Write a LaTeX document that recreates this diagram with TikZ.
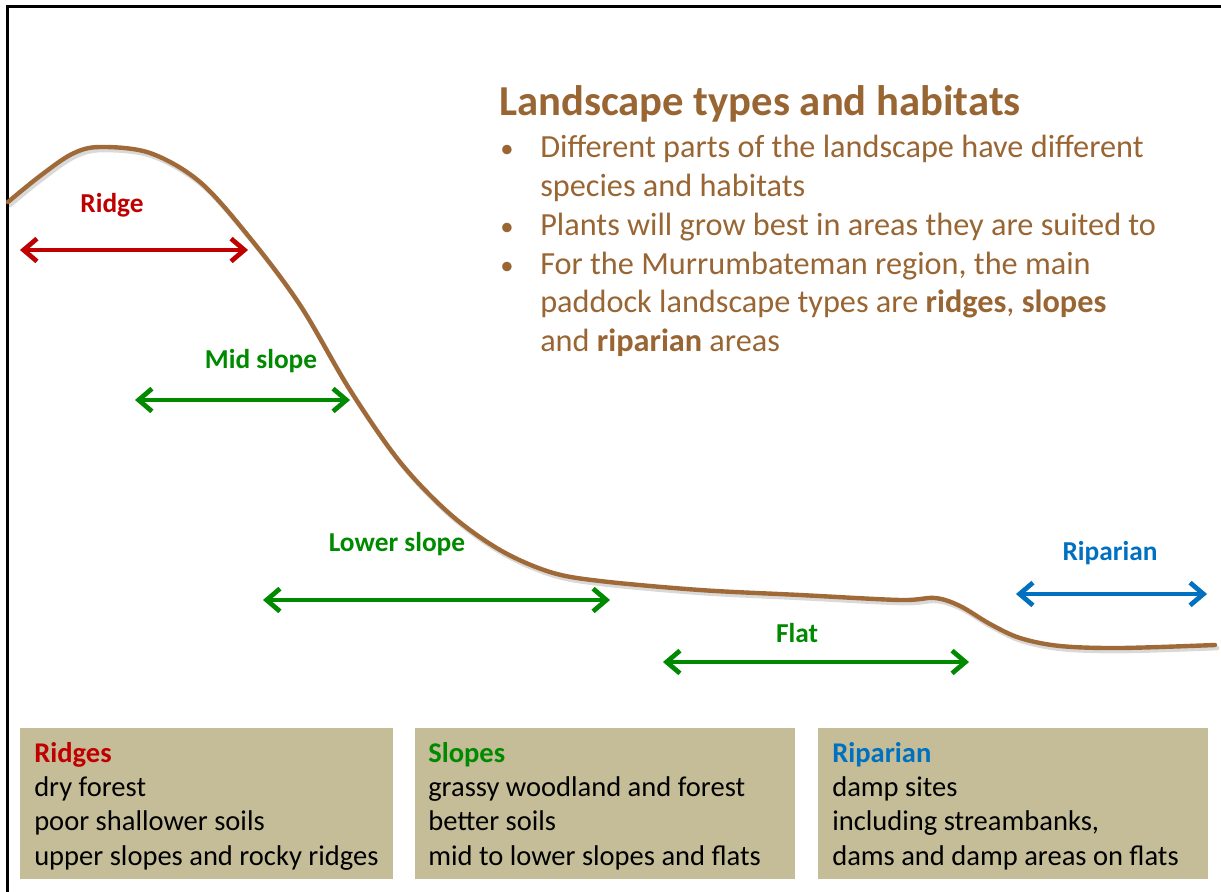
\documentclass[tikz,border=0pt]{standalone}
\usepackage{fontspec}
\setmainfont{Carlito}
\usetikzlibrary{arrows.meta}
\definecolor{brownT}{HTML}{996633}
\definecolor{curveC}{HTML}{A06A38}
\definecolor{redC}{HTML}{C00000}
\definecolor{greenC}{HTML}{008A00}
\definecolor{blueC}{HTML}{0070C0}
\definecolor{tanC}{HTML}{C4BD97}
\tikzset{
  dblarrow/.style={line width=3.5pt, {Straight Barb[length=10pt,width=17pt]}-{Straight Barb[length=10pt,width=17pt]}},
  shadowline/.style={line width=3pt, black, opacity=0.15, line cap=round},
  rangelabel/.style={font=\fontsize{20.5}{24}\selectfont\bfseries, anchor=base},
  boxtext/.style={font=\fontsize{21.4}{25}\selectfont, anchor=base west, inner sep=0pt},
  boxhead/.style={boxtext, font=\fontsize{21.4}{25}\selectfont\bfseries},
  bullettext/.style={font=\fontsize{24.2}{29}\selectfont, anchor=base west, inner sep=0pt, text=brownT},
  bulletdot/.style={font=\fontsize{20}{24}\selectfont, anchor=base, inner sep=0pt, text=brownT},
  infobox/.style={fill=tanC, draw=none},
}
\begin{document}
\begin{tikzpicture}[x=0.75pt,y=-0.75pt]
\useasboundingbox (0,0) rectangle (1221,892);
\fill[white] (0,0) rectangle (1221,892);
% frame
\draw[line width=2.25pt] (7,892) -- (7,7) -- (1221,7);

% landscape curve
\def\curvepts{(8,202) (40,176) (72,154) (100,147) (150,153) (200,182) (250,238) (300,305) (350,390) (400,462) (450,514) (500,550) (550,572) (600,581) (700,590) (800,595) (900,600) (935,598) (960,606) (990,624) (1020,638) (1060,646) (1120,648) (1215,645)}
\draw[shadowline, line width=3.5pt, shift={(2,3)}] plot[smooth, tension=0.55] coordinates {\curvepts};
\draw[curveC, line width=3.3pt, line cap=round] plot[smooth, tension=0.55] coordinates {\curvepts};

% arrows
\coordinate (ra) at (20,250);  \coordinate (rb) at (248,250);
\coordinate (ma) at (135,400); \coordinate (mb) at (350,400);
\coordinate (la) at (263,600); \coordinate (lb) at (610,600);
\coordinate (fa) at (663,662); \coordinate (fb) at (969,662);
\coordinate (pa) at (1016,594); \coordinate (pb) at (1207,594);
\foreach \a/\b in {ra/rb,ma/mb,la/lb,fa/fb,pa/pb}{
  \draw[dblarrow, black, opacity=0.12, shift={(2,3)}] (\a) -- (\b);
}
\draw[dblarrow, redC] (ra) -- (rb);
\draw[dblarrow, greenC] (ma) -- (mb);
\draw[dblarrow, greenC] (la) -- (lb);
\draw[dblarrow, greenC] (fa) -- (fb);
\draw[dblarrow, blueC] (pa) -- (pb);

% range labels
\node[rangelabel, text=redC] (lridge) at (112,212) {Ridge};
\node[rangelabel, text=greenC] (lmid) at (261,368) {Mid slope};
\node[rangelabel, text=greenC] (llow) at (397,551) {Lower slope};
\node[rangelabel, text=greenC] (lflat) at (797,642) {Flat};
\node[rangelabel, text=blueC] (lrip) at (1110,560) {Riparian};

% title and bullets
\node[anchor=base west, inner sep=0pt, text=brownT, font=\fontsize{32}{38}\selectfont\bfseries] (title) at (499,116) {Landscape types and habitats};
\node[bulletdot] (b1) at (507,157) {•};
\node[bullettext] (t1) at (540,157) {Different parts of the landscape have different};
\node[bullettext] (t1b) at (540,196) {species and habitats};
\node[bulletdot] (b2) at (507,235) {•};
\node[bullettext] (t2) at (540,235) {Plants will grow best in areas they are suited to};
\node[bulletdot] (b3) at (507,274) {•};
\node[bullettext] (t3) at (540,274) {For the Murrumbateman region, the main};
\node[bullettext] (t3b) at (540,312) {paddock landscape types are \textbf{ridges}, \textbf{slopes}};
\node[bullettext] (t3c) at (540,351) {and \textbf{riparian} areas};

% info boxes
\fill[infobox] (20,728) rectangle (393,879);
\fill[infobox] (415,728) rectangle (795,879);
\fill[infobox] (818,728) rectangle (1208,879);

\node[boxhead, text=redC] (h1) at (34,762) {Ridges};
\node[boxtext] (a1) at (34,796) {dry forest};
\node[boxtext] (a2) at (34,830) {poor shallower soils};
\node[boxtext] (a3) at (34,865) {upper slopes and rocky ridges};

\node[boxhead, text=greenC] (h2) at (428,762) {Slopes};
\node[boxtext] (c1) at (428,796) {grassy woodland and forest};
\node[boxtext] (c2) at (428,830) {better soils};
\node[boxtext] (c3) at (428,865) {mid to lower slopes and flats};

\node[boxhead, text=blueC] (h3) at (832,762) {Riparian};
\node[boxtext] (d1) at (832,796) {damp sites};
\node[boxtext] (d2) at (832,830) {including streambanks,};
\node[boxtext] (d3) at (832,865) {dams and damp areas on flats};
\end{tikzpicture}
\end{document}
